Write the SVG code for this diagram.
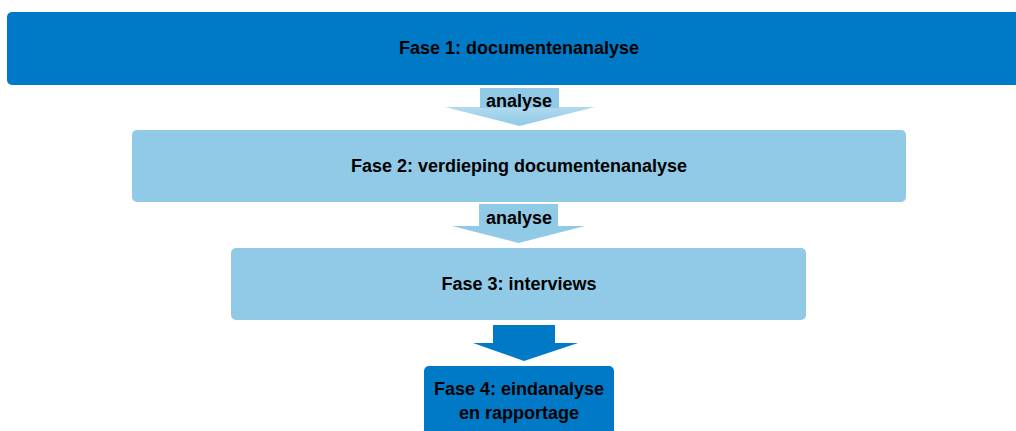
<svg xmlns="http://www.w3.org/2000/svg" width="1016" height="431" viewBox="0 0 1016 431">
<style>
.dark{fill:#007ac7}
.light{fill:#90cae6}
.t{font-family:"Liberation Sans",Arial,sans-serif;font-weight:bold;font-size:18px;fill:#000;text-anchor:middle;dominant-baseline:central}
</style>
<defs>
<linearGradient id="g1" x1="0" y1="0" x2="0" y2="1">
<stop offset="0" stop-color="#d2e9f6"/>
<stop offset="1" stop-color="#90cae6"/>
</linearGradient>
</defs>
<rect width="1016" height="431" fill="#fff"/>
<g id="connectors">
<g id="arrow1">
<polygon points="480,88 559,88 559,107 595,107 519.5,126 445,107 480,107" fill="url(#g1)"/>
<rect x="480" y="88" width="79" height="20" class="light"/>
<text class="t" x="519" y="101">analyse</text>
</g>
<g id="arrow2">
<polygon points="479,204 558,204 558,226 585,226 518.5,243 452,226 479,226" class="light"/>
<text class="t" x="519" y="218">analyse</text>
</g>
<g id="arrow3">
<polygon points="493,325 555,325 555,343 578,343 524,361 473,343 493,343" class="dark"/>
</g>
</g>
<g id="fase1">
<rect x="7" y="12" width="1030" height="73" rx="5" class="dark"/>
<text class="t" x="519" y="48">Fase 1: documentenanalyse</text>
</g>
<g id="fase2">
<rect x="132" y="130" width="774" height="72" rx="5" class="light"/>
<text class="t" x="519" y="166">Fase 2: verdieping documentenanalyse</text>
</g>
<g id="fase3">
<rect x="231" y="248" width="575" height="72" rx="5" class="light"/>
<text class="t" x="519" y="284">Fase 3: interviews</text>
</g>
<g id="fase4">
<rect x="424" y="366" width="190" height="80" rx="5" class="dark"/>
<text class="t" x="519" y="389">Fase 4: eindanalyse</text>
<text class="t" x="519" y="413">en rapportage</text>
</g>
</svg>
